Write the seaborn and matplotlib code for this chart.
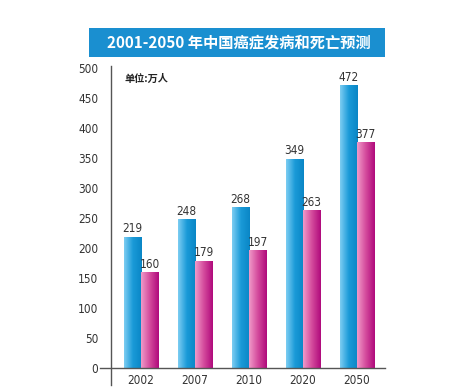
import matplotlib
matplotlib.use("Agg")
import matplotlib.pyplot as plt
from matplotlib.patches import Rectangle
from matplotlib.colors import LinearSegmentedColormap
import numpy as np
import pandas as pd
import seaborn as sns

years = ["2002", "2007", "2010", "2020", "2050"]
incidence = [219, 248, 268, 349, 472]
deaths = [160, 179, 197, 263, 377]
series = ["发病", "死亡"]
yticks = [0, 50, 100, 150, 200, 250, 300, 350, 400, 450, 500]

df = pd.DataFrame({
    "year": years * 2,
    "value": incidence + deaths,
    "kind": [series[0]] * len(years) + [series[1]] * len(years),
})

sns.set_style("white")
cjk_font = ["Noto Sans CJK SC", "DejaVu Sans"]
plt.rcParams["font.family"] = ["DejaVu Sans"]
plt.rcParams["font.stretch"] = "condensed"

fig = plt.figure(figsize=(4.5, 3.89), dpi=100)
ax = fig.add_axes([100 / 450, 4 / 389, 285 / 450, 318.6 / 389])

sns.barplot(data=df, x="year", y="value", hue="kind", order=years,
            palette=["#2aa6e0", "#d0368e"], width=0.63, gap=0,
            legend=False, ax=ax)

# gradients on bars (light left -> dark right)
grads = {
    0: LinearSegmentedColormap.from_list("b", ["#7ccdf2", "#1a9ad8", "#0a86c6"]),
    1: LinearSegmentedColormap.from_list("m", ["#f09ac8", "#d44a9c", "#b00a7c"]),
}
g = np.linspace(0, 1, 64).reshape(1, -1)
for i, cont in enumerate(ax.containers):
    for p in cont:
        x0, y0 = p.get_x(), p.get_y()
        w, h = p.get_width(), p.get_height()
        im = ax.imshow(g, cmap=grads[i], aspect="auto",
                       extent=[x0, x0 + w, y0, y0 + h], zorder=p.get_zorder() + 0.1)
        im.set_clip_path(p)
    ax.bar_label(cont, padding=1, fontsize=8.5, color="#333333")

ax.set_xlim(-0.759, 4.519)
ax.set_ylim(-28, 503)
ax.set_yticks(yticks)
ax.set_xlabel("")
ax.set_ylabel("")
ax.spines["top"].set_visible(False)
ax.spines["right"].set_visible(False)
ax.spines["left"].set_position(("axes", 11 / 285))
ax.spines["bottom"].set_position(("data", 0))
for s in ("left", "bottom"):
    ax.spines[s].set_color("#555555")
    ax.spines[s].set_linewidth(1.0)
ax.tick_params(axis="both", length=0, labelsize=8.5, colors="#333333")
ax.tick_params(axis="y", pad=9)
ax.tick_params(axis="x", pad=4)

ax.text(0.085, 0.962, "单位:万人", transform=ax.transAxes, fontsize=7.3,
        fontweight="bold", family=cjk_font, color="#222222", va="center")

# title banner
fig.patches.append(Rectangle((89 / 450, 1 - 57 / 389), 296 / 450, 29 / 389,
                             transform=fig.transFigure, facecolor="#1a8fd0",
                             edgecolor="none"))
fig.text(239 / 450, 1 - 42.5 / 389, "2001-2050 年中国癌症发病和死亡预测",
         ha="center", va="center", color="white", fontsize=11,
         fontweight="bold", family=cjk_font)

fig.savefig("out.png", dpi=100)
